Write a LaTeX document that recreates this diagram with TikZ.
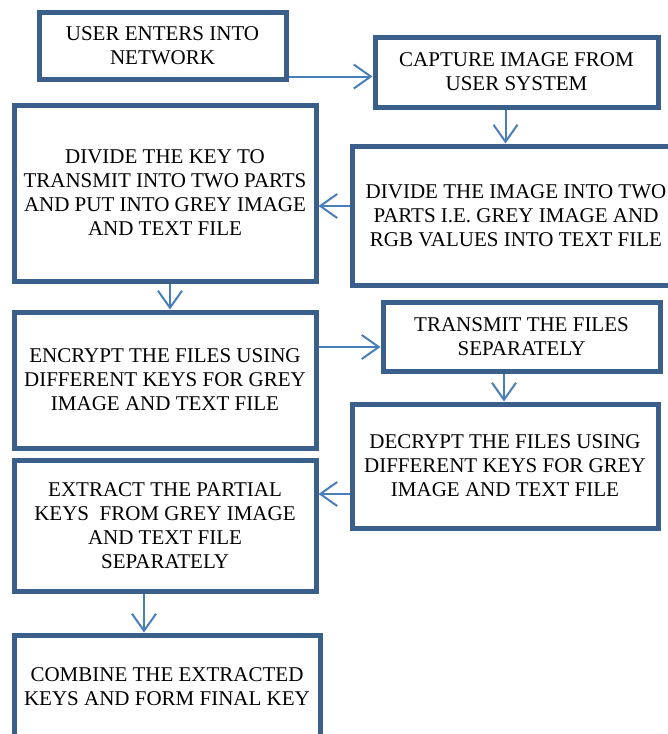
\documentclass[tikz,border=0pt]{standalone}
\usepackage{fontspec}
\setmainfont{Liberation Serif}
\usetikzlibrary{arrows.meta}
\definecolor{boxblue}{RGB}{58,95,139}
\definecolor{arrblue}{RGB}{74,126,187}
\begin{document}
\begin{tikzpicture}[x=1pt,y=-1pt,
  stepbox/.style={draw=boxblue, line width=5pt, fill=white, rectangle, align=center,
    inner sep=0pt, font=\fontsize{21}{24}\selectfont},
  arr/.style={draw=arrblue, line width=2pt, -{Straight Barb[length=17pt,width=24pt,line width=2pt]}}]
\clip (0,0) rectangle (668,734);
\node[stepbox, minimum width=247pt, minimum height=67pt] (b1) at (162.5,45.5) {USER ENTERS INTO\\NETWORK};
\node[stepbox, minimum width=283pt, minimum height=70pt] (b2) at (516.5,72) {CAPTURE IMAGE FROM\\USER SYSTEM};
\node[stepbox, minimum width=302pt, minimum height=176pt] (b3) at (165,193) {DIVIDE THE KEY TO\\TRANSMIT INTO TWO PARTS\\AND PUT INTO GREY IMAGE\\AND TEXT FILE};
\node[stepbox, minimum width=328pt, minimum height=139pt] (b4) at (516,215.5) {DIVIDE THE IMAGE INTO TWO\\PARTS I.E. GREY IMAGE AND\\RGB VALUES INTO TEXT FILE};
\node[stepbox, minimum width=302pt, minimum height=136pt] (b5) at (165,380) {ENCRYPT THE FILES USING\\DIFFERENT KEYS FOR GREY\\IMAGE AND TEXT FILE};
\node[stepbox, minimum width=277pt, minimum height=69pt] (b6) at (521.5,336.5) {TRANSMIT THE FILES\\SEPARATELY};
\node[stepbox, minimum width=306pt, minimum height=124pt] (b7) at (505,466) {DECRYPT THE FILES USING\\DIFFERENT KEYS FOR GREY\\IMAGE AND TEXT FILE};
\node[stepbox, minimum width=302pt, minimum height=131pt] (b8) at (165,525.5) {EXTRACT THE PARTIAL\\KEYS\ \ FROM GREY IMAGE\\AND TEXT FILE\\SEPARATELY};
\node[stepbox, minimum width=306pt, minimum height=104pt] (b9) at (167,687) {COMBINE THE EXTRACTED\\KEYS AND FORM FINAL KEY};
\draw[arr] ([yshift=5pt]b1.south east) -- ([yshift=5pt]b1.south east -| b2.west);
\draw[arr] ([xshift=-11pt]b2.south) -- ([xshift=-11pt]b2.south |- b4.north);
\draw[arr] ([yshift=9.5pt]b4.west) -- ([yshift=9.5pt]b4.west -| b3.east);
\draw[arr] ([xshift=5pt]b3.south) -- ([xshift=5pt]b3.south |- b5.north);
\draw[arr] ([yshift=33pt]b5.east) -- ([yshift=33pt]b5.east -| b6.west);
\draw[arr] ([xshift=-17.5pt]b6.south) -- ([xshift=-17.5pt]b6.south |- b7.north);
\draw[arr] ([yshift=-28pt]b7.west) -- ([yshift=-28pt]b7.west -| b8.east);
\draw[arr] ([xshift=-21pt]b8.south) -- ([xshift=-21pt]b8.south |- b9.north);
\end{tikzpicture}
\end{document}
